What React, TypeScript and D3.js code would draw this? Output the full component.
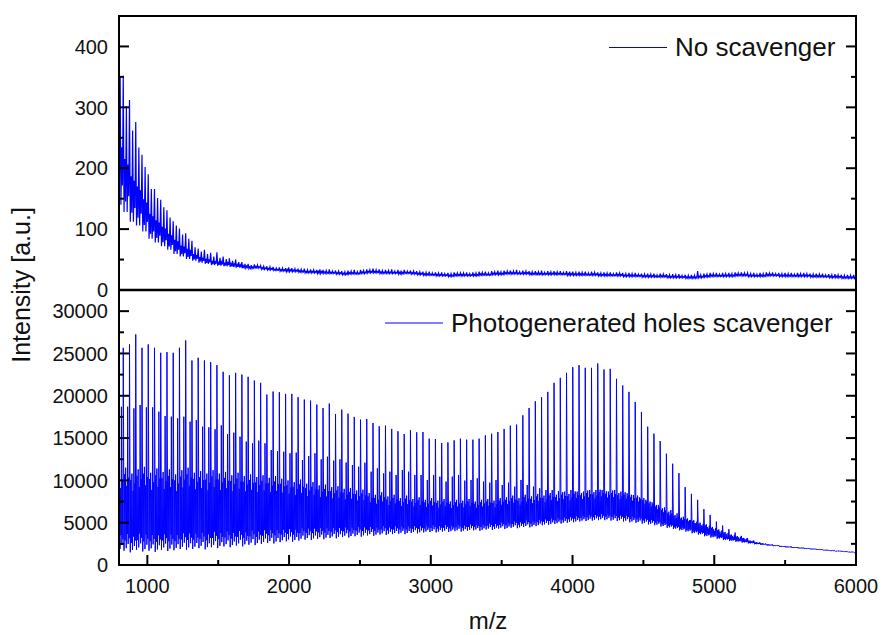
import React from "react";
import * as d3 from "d3";

// ---------- axis ticks / labels ----------
const X_TICKS = [1000, 2000, 3000, 4000, 5000, 6000];
const X_MINOR = [1500, 2500, 3500, 4500, 5500];
const TOP_TICKS = [0, 100, 200, 300, 400];
const TOP_MINOR = [50, 150, 250, 350];
const BOTTOM_TICKS = [0, 5000, 10000, 15000, 20000, 25000, 30000];
const BOTTOM_MINOR = [2500, 7500, 12500, 17500, 22500, 27500];

const X_DOMAIN = [800, 6000];
const TOP_DOMAIN = [0, 450];
const BOTTOM_DOMAIN = [0, 32500];

const SERIES_TOP = "No scavenger";
const SERIES_BOTTOM = "Photogenerated holes scavenger";

// ---------- peak series (one entry per 44 Da repeat unit, first unit at m/z 786) ----------
const PEAK_START = 786;
const PEAK_SPACING = 44.05;

// Top panel: "No scavenger"
const topMain = [
  340, 352, 312, 276, 222, 190, 166, 148, 131, 113,
  101, 93, 81, 68, 66, 61, 62, 55, 52, 50,
  46, 43, 42, 40, 39, 38, 37, 36, 36, 35,
  35, 34, 33, 33, 34, 32, 31, 32, 33, 33,
  34, 35, 34, 33, 34, 33, 33, 32, 31, 30,
  30, 29, 29, 28, 29, 28, 29, 29, 30, 30,
  31, 32, 32, 32, 33, 32, 31, 31, 32, 31,
  31, 31, 31, 30, 30, 30, 30, 29, 29, 29,
  29, 28, 28, 28, 27, 27, 27, 27, 26, 26,
  26, 25, 25, 31, 27, 28, 28, 28, 28, 29,
  29, 28, 28, 28, 29, 29, 28, 28, 28, 28,
  28, 27, 27, 27, 26, 26, 25, 25, 25,
];
const topSub = [
  350, 302, 262, 234, 202, 166, 151, 136, 119, 106,
  91, 84, 70, 63, 59, 55, 53, 51, 48, 46,
  43, 41, 41, 39, 38, 36, 36, 37, 35, 34,
  33, 33, 34, 32, 31, 31, 30, 31, 30, 32,
  33, 33, 32, 32, 31, 32, 31, 31, 30, 29,
  28, 28, 27, 27, 28, 28, 27, 28, 29, 28,
  30, 30, 31, 31, 30, 31, 30, 30, 29, 30,
  30, 29, 30, 29, 29, 28, 29, 28, 28, 27,
  28, 27, 27, 26, 26, 26, 25, 26, 25, 25,
  24, 24, 24, 25, 26, 27, 26, 27, 27, 28,
  28, 27, 26, 27, 28, 27, 27, 27, 26, 27,
  27, 26, 26, 25, 25, 25, 24, 24, 23,
];
const topValley = [
  140, 128, 112, 106, 96, 84, 78, 72, 66, 59,
  55, 51, 48, 45, 43, 41, 40, 39, 38, 37,
  36, 35, 36, 34, 33, 32, 31, 30, 30, 29,
  28, 28, 27, 27, 27, 26, 25, 26, 26, 27,
  28, 28, 27, 27, 27, 26, 27, 26, 25, 24,
  24, 23, 23, 22, 23, 23, 23, 23, 24, 24,
  25, 25, 26, 26, 26, 26, 25, 25, 25, 25,
  25, 25, 24, 24, 24, 24, 24, 23, 23, 23,
  23, 22, 22, 22, 21, 21, 21, 21, 20, 20,
  20, 19, 19, 20, 21, 22, 22, 22, 22, 23,
  23, 22, 22, 22, 23, 23, 22, 22, 22, 22,
  22, 21, 21, 21, 20, 20, 19, 19, 19,
];

// Bottom panel: "Photogenerated holes scavenger"
const bottomMain = [
  20000,
  25670, 26070, 27250, 25670, 26070, 25670, 25080, 25160, 25080,
  25670, 26540, 24170, 24490, 24170, 23970, 23620, 22830, 22430, 22710,
  22510, 22240, 21800, 21530, 20140, 20500, 20420, 20220, 20220, 19830,
  19550, 19430, 18960, 18560, 19080, 17850, 18360, 17890, 17500, 17180,
  17260, 16780, 16390, 16470, 16080, 15800, 15480, 15920, 15680, 15720,
  14930, 14890, 14420, 14490, 14730, 14930, 14810, 14810, 14930, 15320,
  15520, 15720, 16080, 16470, 16590, 17690, 18560, 19350, 19830, 20460,
  21530, 22120, 22710, 23380, 23620, 23300, 23300, 23810, 23100, 23180,
  22000, 21210, 20460, 19270, 18090, 16350, 15520, 14650, 13150, 11970,
  10860, 9200, 8410, 7700, 6600, 5920, 5130, 4660, 4230, 3830,
  3440, 3160, 2880, 2640, 2450, 2420, 2330, 2250, 2180, 2110,
  2040, 1970, 1900, 1830, 1760, 1700, 1640, 1580, 1530,
];
const bottomSecondary = [
  18700,
  18710, 18515, 18910, 18630, 18630, 18120, 17610, 17530, 17330,
  17530, 16940, 17140, 16350, 16270, 16040, 16500, 15480, 15640, 15170,
  14580, 14380, 14700, 14380, 13590, 13470, 13390, 13200, 13280, 12410,
  12880, 13200, 12490, 12800, 12330, 12490, 12110, 11820, 11620, 12090,
  11030, 11420, 10830, 11030, 10640, 11230, 11030, 10640, 10640, 10050,
  10640, 10440, 9850, 10440, 10640, 9970, 10050, 10240, 9850, 9730,
  10050, 9450, 9730, 9260, 10050, 9450, 9260, 9060, 8860, 8860,
  8750, 8670, 8860, 8670, 8670, 8860, 8860, 8860, 8670, 8860,
  8670, 8470, 8270, 8000, 7700, 7400, 7100, 6800, 6500, 6100,
  5700, 5300, 4900, 4600, 4300, 4000, 3700, 3500, 3300, 3100,
  2900, 2750, 2600, 2450, 2350, 2310, 2230, 2160, 2100, 2040,
  1980, 1920, 1860, 1800, 1740, 1680, 1630, 1580, 1530,
];
const bottomBand = [
  11200, 11500, 10800, 11300, 11600, 10900, 11400, 11000, 11300, 10700,
  11200, 11500, 10900, 11100, 10800, 11200,
  10800, 11000, 10600, 10900, 10500, 10700, 10400, 10600, 10300, 10500, 10200,
  10000, 9800, 10100, 9600, 9800, 9400, 9500, 9200, 9300, 9000, 9100, 8800, 8900,
  8500, 8300, 8600, 8100, 8300, 7900, 8200, 7800, 8000, 7700, 7900,
  7600, 7800, 7500, 7700, 7600, 7800, 7500, 7700, 7800, 7600, 7900,
  8000, 8200, 7900, 8300, 8100, 8400, 8200, 8500, 8300, 8600, 8400, 8700, 8500, 8800, 8600, 8900,
  8700, 8800, 8500, 8600, 8300, 8200, 7900,
  7500, 7100, 6700, 6300, 5900, 5600,
  5500, 5300, 5000, 4800, 4500, 4200,
  3900, 3600, 3400, 3200,
  2900, 2700, 2560, 2440, 2340, 2260, 2190, 2120, 2060,
  1990, 1930, 1870, 1800, 1740, 1680, 1620, 1570, 1510,
];
const bottomValley = [
  1600, 1700, 1500, 1800, 1600, 1700, 1550, 1800, 1650, 1750, 1900, 1800,
  1900, 2000, 1850, 2100, 2000, 2200, 2100, 2300, 2200,
  2400, 2350, 2500, 2600, 2550, 2700, 2800, 2750, 2900, 3000, 2950,
  3100, 3050, 3200, 3150, 3300, 3250, 3400, 3350,
  3500, 3450, 3600, 3550, 3650, 3700, 3650, 3800, 3750, 3850, 3900, 3850, 3950, 3900, 4000, 3950, 4050,
  4100, 4050, 4200, 4150, 4300, 4250, 4400, 4350, 4500, 4450, 4600,
  4700, 4750, 4850, 4900, 5000, 5050, 5150, 5200, 5250, 5300,
  5300, 5250, 5200, 5150, 5050, 5000,
  4900, 4800, 4700, 4550, 4400, 4250, 4100,
  3950, 3750, 3600, 3400, 3250, 3100,
  2950, 2850, 2750, 2650, 2550,
  2450, 2380, 2300, 2230, 2150, 2080, 2020, 1960,
  1900, 1840, 1780, 1720, 1660, 1600, 1550, 1500, 1450,
];

// sub-peak layout inside one repeat unit: [m/z offset, series, relative level]
const TOP_PROFILE: [number, string, number][] = [
  [0, "main", 1], [5.5, "valley", 0], [11, "mid", 0.5], [16.5, "valley", 0.1],
  [22, "sub", 1], [27.5, "valley", 0], [33, "mid", 0.45], [38.5, "valley", 0.15],
];
const BOTTOM_PROFILE: [number, string, number][] = [
  [0, "main", 1], [5.5, "valley", 0], [9, "band", 0.92], [13, "valley", 0.12],
  [17, "band", 1], [21, "valley", 0.03], [25, "band", 0.78], [28.5, "valley", 0.2],
  [31, "secondary", 1], [34.5, "valley", 0.08], [38.5, "band", 0.88], [41.5, "valley", 0.15],
];

type Pt = [number, number];

function buildTop(): Pt[] {
  const pts: Pt[] = [];
  topMain.forEach((mainH, i) => {
    const m0 = PEAK_START + i * PEAK_SPACING;
    const v = topValley[i];
    const s = topSub[i];
    for (const [off, kind, lvl] of TOP_PROFILE) {
      let val = v + lvl * (s - v);
      if (kind === "main") val = mainH;
      else if (kind === "sub") val = s;
      pts.push([m0 + off, val]);
    }
  });
  return pts;
}

function buildBottom(): Pt[] {
  const pts: Pt[] = [];
  bottomMain.forEach((mainH, i) => {
    const m0 = PEAK_START + i * PEAK_SPACING;
    const v = bottomValley[i];
    const b = bottomBand[i];
    for (const [off, kind, lvl] of BOTTOM_PROFILE) {
      let val = v + lvl * (b - v);
      if (kind === "main") val = mainH;
      else if (kind === "secondary") val = bottomSecondary[i];
      pts.push([m0 + off, val]);
    }
  });
  return pts;
}

const FONT = "'Liberation Sans', Arial, Helvetica, sans-serif";
const BLUE = "#0000ff";

export default function App() {
  const W = 882;
  const H = 635;
  const L = 119;
  const R = 856;
  const T = 16;
  const MID = 290;
  const B = 565;

  const x = d3.scaleLinear().domain(X_DOMAIN).range([L, R]);
  const yTop = d3.scaleLinear().domain(TOP_DOMAIN).range([MID, T]);
  const yBot = d3.scaleLinear().domain(BOTTOM_DOMAIN).range([B, MID]);

  const lineTop = d3.line<Pt>().x((d) => x(d[0])).y((d) => yTop(d[1]));
  const lineBot = d3.line<Pt>().x((d) => x(d[0])).y((d) => yBot(d[1]));
  const topPath = lineTop(buildTop()) || "";
  const botPath = lineBot(buildBottom()) || "";

  const MAJ = 10;
  const MIN = 5;

  const yTicks = (scale: d3.ScaleLinear<number, number>, major: number[], minor: number[], key: string) => (
    <g key={key}>
      {major.map((t) => (
        <g key={`${key}M${t}`}>
          <line x1={L} x2={L + MAJ} y1={scale(t)} y2={scale(t)} stroke="#000" strokeWidth={2} />
          <line x1={R} x2={R - MAJ} y1={scale(t)} y2={scale(t)} stroke="#000" strokeWidth={2} />
          <text x={108} y={scale(t)} dy="0.36em" textAnchor="end" fontSize={20} fontFamily={FONT} fill="#111">
            {t}
          </text>
        </g>
      ))}
      {minor.map((t) => (
        <g key={`${key}m${t}`}>
          <line x1={L} x2={L + MIN} y1={scale(t)} y2={scale(t)} stroke="#000" strokeWidth={2} />
          <line x1={R} x2={R - MIN} y1={scale(t)} y2={scale(t)} stroke="#000" strokeWidth={2} />
        </g>
      ))}
    </g>
  );

  return (
    <svg
      width={W}
      height={H}
      viewBox={`0 0 ${W} ${H}`}
      style={{ position: "absolute", left: 0, top: 0, background: "#fff" }}
    >
      <defs>
        <clipPath id="clipTop">
          <rect x={L} y={T} width={R - L} height={MID - T} />
        </clipPath>
        <clipPath id="clipBot">
          <rect x={L} y={MID} width={R - L} height={B - MID} />
        </clipPath>
      </defs>
      <rect x={0} y={0} width={W} height={H} fill="#fff" />

      <path d={topPath} fill="none" stroke={BLUE} strokeWidth={1.2} clipPath="url(#clipTop)" />
      <path d={botPath} fill="none" stroke={BLUE} strokeWidth={1} clipPath="url(#clipBot)" />

      {/* frame */}
      <rect x={L} y={T} width={R - L} height={B - T} fill="none" stroke="#000" strokeWidth={2} />
      <line x1={L} x2={R} y1={MID} y2={MID} stroke="#000" strokeWidth={2.5} />

      {yTicks(yTop, TOP_TICKS, TOP_MINOR, "top")}
      {yTicks(yBot, BOTTOM_TICKS, BOTTOM_MINOR, "bot")}

      {X_TICKS.map((t) => (
        <g key={`x${t}`}>
          <line x1={x(t)} x2={x(t)} y1={B} y2={B - MAJ} stroke="#000" strokeWidth={2} />
          <text x={x(t)} y={593} textAnchor="middle" fontSize={20} fontFamily={FONT} fill="#111">
            {t}
          </text>
        </g>
      ))}
      {X_MINOR.map((t) => (
        <line key={`xm${t}`} x1={x(t)} x2={x(t)} y1={B} y2={B - MIN} stroke="#000" strokeWidth={2} />
      ))}

      {/* axis titles */}
      <text x={488} y={629} textAnchor="middle" fontSize={24} fontFamily={FONT} fill="#111">
        m/z
      </text>
      <text
        transform="translate(30,285) rotate(-90)"
        textAnchor="middle"
        fontSize={25}
        fontFamily={FONT}
        fill="#111"
      >
        Intensity [a.u.]
      </text>

      {/* legends */}
      <line x1={609} x2={667} y1={47.5} y2={47.5} stroke={BLUE} strokeWidth={1} />
      <text x={675} y={56} fontSize={26} fontFamily={FONT} fill="#111">
        {SERIES_TOP}
      </text>
      <line x1={385} x2={443} y1={323} y2={323} stroke={BLUE} strokeWidth={1} />
      <text x={451} y={332} fontSize={26} fontFamily={FONT} fill="#111">
        {SERIES_BOTTOM}
      </text>
    </svg>
  );
}
